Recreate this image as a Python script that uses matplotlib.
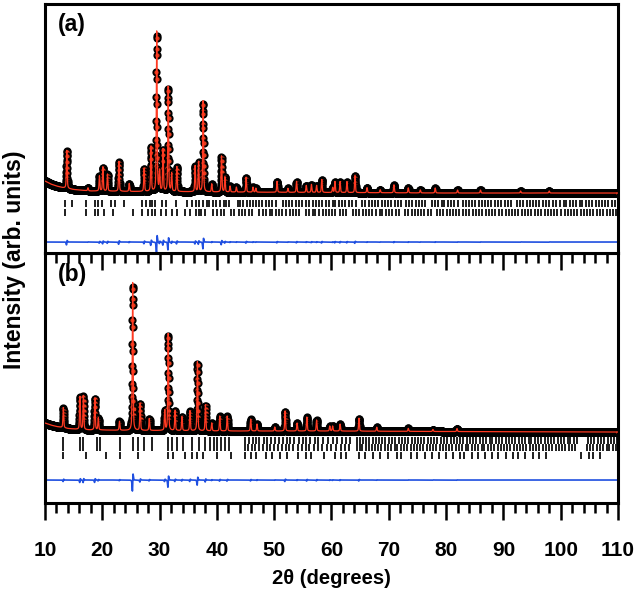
import numpy as np
import matplotlib.pyplot as plt

plt.rcParams['font.family'] = ['Liberation Sans', 'DejaVu Sans']
plt.rcParams['font.weight'] = 'bold'

# 2theta grid of the scan
two_theta = np.arange(10, 110.001, 0.02)

# background levels (panel units = pixels above panel bottom)
bg_pos = [10, 11, 12, 13, 14, 15, 16, 18, 20, 25, 30, 40, 60, 80, 110]
bg_a = [72, 69, 67, 65.5, 64.5, 63.5, 63, 62, 62, 61.5, 61.5, 61, 60.5, 60, 60]
bg_b = [80, 78, 76.5, 75.5, 74.5, 74, 73.5, 73, 73, 72.5, 72.5, 72, 72, 71.5, 71]

# peak positions / heights above background, panel (a)
peaks_a_pos = [13.8, 17.5, 19.5, 20.1, 20.9, 22.9, 24.7, 27.3, 28.5, 29.5, 30.0, 30.6,
               31.5, 32.1, 33.0, 36.2, 36.8, 37.6, 39.1, 40.8, 41.4, 42.3, 43.4, 45.1,
               46.3, 46.8, 50.5, 52.4, 53.9, 55.6, 56.5, 57.4, 58.3, 60.2, 60.6, 61.5,
               62.7, 64.1, 66.2, 68.5, 70.9, 73.4, 75.5, 78.1, 82.0, 86.0, 93.0, 98.0]
peaks_a_h = [38, 3, 15, 24, 17, 30, 8, 23, 45, 160, 20, 42,
             105, 18, 25, 26, 30, 91, 8, 36, 15, 6, 5, 15,
             5, 4, 11, 4, 11, 7, 8, 7, 13, 5, 11, 11,
             11, 17, 5, 3, 8, 5, 3, 5, 3, 3, 2, 2]

# peak positions / heights above background, panel (b)
peaks_b_pos = [13.2, 16.1, 16.7, 18.7, 19.3, 23.0, 25.3, 26.6, 28.2, 30.9, 31.5, 32.7,
               33.9, 35.3, 36.6, 38.0, 39.1, 40.5, 41.8, 45.9, 47.0, 50.1, 51.9, 54.0,
               55.7, 57.4, 59.7, 60.2, 61.5, 64.8, 67.9, 73.4, 77.7, 81.9]
peaks_b_h = [20, 33, 34, 32, 12, 9, 148, 27, 12, 20, 97, 20,
             14, 20, 69, 26, 8, 15, 15, 12, 7, 4, 20, 8,
             14, 11, 5, 5, 7, 13, 4, 3, 2, 3]

# Bragg reflection positions
refl_a1 = [13.5, 14.8, 17.1, 18.7, 19.3, 19.9, 21.5, 22.2, 23.8, 27.0, 27.6, 28.3, 28.6, 29.2,
           30.5, 31.2, 32.8, 34.7, 35.6, 36.3, 36.9, 37.6, 38.2, 38.7, 39.3, 39.9, 40.5, 41.2,
           41.6, 42.2, 43.6, 44.1, 44.6, 45.2, 45.7, 46.3, 46.8, 47.4, 47.9, 48.5, 49.1, 49.6,
           50.3, 51.5, 52.0, 52.6, 53.1, 53.8, 54.3, 54.9, 55.5, 56.0, 56.8, 57.3, 57.9, 58.4,
           59.0, 59.6, 60.2, 60.7, 61.3, 61.9, 62.4, 63.1, 63.6, 64.2, 65.4, 65.9, 66.5, 67.0,
           67.6, 68.1, 68.8, 69.3, 69.9, 70.4, 71.0, 71.6, 72.1, 73.0, 73.5, 74.1, 74.7, 75.2,
           75.8, 76.4, 77.5, 78.0, 78.6, 79.2, 79.7, 80.3, 80.8, 81.4, 82.0, 82.9, 83.4, 84.0,
           84.6, 85.1, 85.7, 86.2, 86.8, 87.4, 87.9, 88.5, 89.1, 89.6, 90.2, 90.8, 91.3, 92.4,
           92.9, 93.5, 94.1, 94.6, 95.2, 95.7, 96.3, 96.9, 97.4, 98.0, 98.6, 99.1, 99.9, 100.5,
           101.0, 101.6, 102.2, 102.7, 103.3, 103.8, 104.4, 105.0, 105.5, 106.1, 106.7, 107.2,
           107.8, 108.3, 108.9, 109.5]
refl_a2 = [13.5, 17.1, 18.7, 19.3, 20.3, 21.9, 25.4, 27.0, 27.9, 28.6, 29.2, 30.2, 31.2, 32.1,
           33.1, 34.4, 35.3, 36.3, 36.8, 37.2, 38.0, 39.4, 40.1, 40.7, 41.3, 42.5, 43.0, 43.8,
           44.3, 44.9, 45.6, 46.2, 47.4, 48.0, 48.5, 49.2, 49.7, 50.3, 50.9, 51.4, 52.0, 52.7,
           53.2, 53.8, 54.4, 55.6, 56.1, 56.7, 57.2, 57.8, 58.5, 59.0, 59.6, 60.1, 60.7, 61.4,
           62.0, 62.5, 63.7, 64.2, 64.8, 65.5, 66.0, 66.6, 67.1, 67.7, 68.4, 68.9, 69.5, 70.0,
           70.6, 71.3, 71.8, 72.8, 73.4, 74.0, 74.5, 75.1, 75.6, 76.2, 76.8, 77.3, 78.4, 79.0,
           79.5, 80.1, 80.6, 81.2, 81.8, 82.3, 82.9, 83.4, 84.0, 84.7, 85.2, 85.8, 86.3, 86.9,
           87.5, 88.0, 88.6, 89.3, 89.8, 90.4, 90.9, 91.5, 92.1, 92.6, 93.2, 93.8, 94.3, 94.9,
           95.5, 96.0, 96.6, 97.2, 97.7, 98.3, 98.9, 99.4, 100.0, 100.7, 101.2, 101.8, 102.3,
           102.9, 103.5, 104.0, 104.6, 105.2, 105.7, 106.3, 106.9, 107.4, 108.0, 108.6, 109.1,
           109.7]
refl_b1 = [13.2, 16.1, 16.7, 19.0, 19.6, 23.1, 25.4, 26.3, 27.3, 28.6, 31.5, 32.1, 33.1, 34.0,
           35.6, 36.9, 37.9, 38.8, 39.5, 40.1, 40.8, 41.4, 42.1, 44.9, 45.6, 46.3, 46.9, 47.4,
           48.2, 48.8, 49.5, 50.2, 50.9, 51.5, 52.2, 52.8, 53.4, 54.3, 55.0, 55.6, 56.3, 57.1,
           57.7, 58.6, 59.4, 60.3, 61.0, 61.8, 62.6, 63.3, 64.5, 65.0, 65.5, 66.1, 66.6, 67.2,
           67.8, 68.3, 68.9, 69.4, 70.0, 70.6, 71.1, 71.7, 72.3, 72.8, 73.4, 74.0, 74.5, 75.1,
           75.7, 76.2, 76.8, 77.4, 77.9, 78.5, 79.1, 79.6, 80.2, 80.8, 81.3, 81.9, 82.5, 83.0,
           83.6, 84.2, 84.7, 85.3, 85.9, 86.4, 87.0, 87.6, 88.1, 88.7, 89.3, 89.8, 90.4, 91.0,
           91.5, 92.1, 92.7, 93.2, 93.8, 94.4, 94.9, 95.5, 96.1, 96.6, 97.2, 97.8, 98.3, 98.9,
           99.5, 100.0, 100.6, 101.2, 101.7, 102.3, 102.9, 104.8, 105.3, 105.9, 106.5, 107.0,
           107.6, 108.2, 108.7, 109.3, 109.8]
refl_b2 = [13.2, 16.1, 16.7, 19.0, 19.6, 23.1, 25.4, 26.3, 27.3, 28.6, 31.5, 32.1, 33.1, 34.0,
           35.6, 36.9, 37.9, 38.8, 39.5, 40.1, 40.8, 41.4, 42.1, 44.9, 45.4, 46.1, 46.7, 47.4,
           48.0, 48.7, 49.3, 50.0, 50.7, 51.3, 52.0, 52.6, 53.3, 54.1, 54.8, 55.5, 56.1, 56.9,
           57.6, 58.4, 59.2, 60.0, 60.8, 61.6, 62.4, 63.1, 64.4, 64.9, 65.4, 66.0, 66.5, 67.1,
           67.6, 68.2, 68.7, 69.3, 69.9, 70.4, 71.0, 71.5, 72.1, 72.7, 73.2, 73.8, 74.4, 74.9,
           75.5, 76.0, 76.6, 77.2, 77.7, 78.3, 78.9, 79.4, 80.0, 80.5, 81.1, 81.7, 82.2, 82.8,
           83.4, 83.9, 84.5, 85.0, 85.6, 86.2, 86.7, 87.3, 87.9, 88.4, 89.0, 89.5, 90.1, 90.7,
           91.2, 91.8, 92.4, 92.9, 93.5, 94.0, 94.6, 95.2, 95.7, 96.3, 96.9, 97.4, 98.0, 98.5,
           99.1, 99.7, 100.2, 100.8, 101.4, 101.9, 102.5, 104.6, 105.1, 105.7, 106.3, 106.8,
           107.4, 108.0, 108.5, 109.1, 109.7]
refl_b3 = [13.2, 17.1, 20.6, 23.1, 26.3, 31.5, 32.4, 34.4, 35.6, 36.6, 37.6, 40.1, 42.4, 44.9,
           45.9, 46.9, 48.5, 49.7, 51.0, 52.3, 54.2, 55.5, 56.5, 58.7, 60.6, 61.6, 62.6, 64.8,
           65.8, 67.3, 68.5, 69.9, 71.4, 72.2, 73.8, 75.0, 76.4, 77.6, 78.7, 80.0, 81.2, 82.4,
           83.1, 84.5, 85.6, 86.8, 88.0, 89.1, 90.5, 91.7, 92.6, 93.8, 95.1, 96.2, 97.5, 103.6,
           104.9, 105.7, 106.8]


def profile(bg, pos, hts, shift=0.0, scale=1.0, fwhm=0.16, eta=0.5):
    y = np.interp(two_theta, bg_pos, bg)
    for p, h in zip(pos, hts):
        d = (two_theta - p - shift) / (fwhm / 2)
        y = y + scale * h * (eta / (1 + d**2) + (1 - eta) * np.exp(-np.log(2) * d**2))
    return y


fig = plt.figure(figsize=(6.4, 5.92), dpi=100)
ax_a = fig.add_axes([0.0703, 0.5726, 0.8953, 0.4206])
ax_b = fig.add_axes([0.0703, 0.1503, 0.8953, 0.4223])
ax_a.set_zorder(2)

panels = [
    (ax_a, bg_a, peaks_a_pos, peaks_a_h, [refl_a1, refl_a2], [50, 41], 11, 249, '(a)'),
    (ax_b, bg_b, peaks_b_pos, peaks_b_h, [refl_b1, refl_b2, refl_b3], [63, 56, 48], 23, 250, '(b)'),
]

for ax, bg, pos, hts, refl, refl_y, diff_y, top, tag in panels:
    calc = profile(bg, pos, hts)
    obs = profile(bg, pos, hts, shift=0.007, scale=0.975)

    ax.plot(two_theta, obs, 'o', ms=4.5, mfc='#e03a1c', mec='black', mew=1.4, zorder=2)
    ax.plot(two_theta, calc, color='#ff3a22', lw=0.9, zorder=3)

    # reflection markers
    for r, yy in zip(refl, refl_y):
        ax.vlines(r, yy - 3.5, yy + 3.5, color='#1e1e1e', lw=1.4)

    ax.plot(two_theta, diff_y + (obs - calc), color='#1f4fe0', lw=1.2)

    ax.text(0.022, 0.962, tag, transform=ax.transAxes, fontsize=16.5,
            fontweight='bold', va='top', ha='left')

    ax.set_xlim(10, 110)
    ax.set_ylim(0, top)
    ax.set_yticks([])
    ax.set_xticks(np.arange(10, 111, 10))
    ax.set_xticks(np.arange(10, 111, 2), minor=True)
    ax.tick_params(axis='x', which='major', direction='out', length=12, width=1.8)
    ax.tick_params(axis='x', which='minor', direction='out', length=7, width=1.8)
    for s in ax.spines.values():
        s.set_linewidth(2.2)

ax_a.set_xticklabels([])
ax_b.tick_params(axis='x', which='major', labelsize=15, pad=15)
ax_b.set_xlabel('2θ (degrees)', fontsize=14.5, fontweight='bold', labelpad=7)
fig.text(0.022, 0.561, 'Intensity (arb. units)', rotation=90, fontsize=16.5,
         fontweight='bold', ha='center', va='center')

fig.savefig('out.png', dpi=100)
